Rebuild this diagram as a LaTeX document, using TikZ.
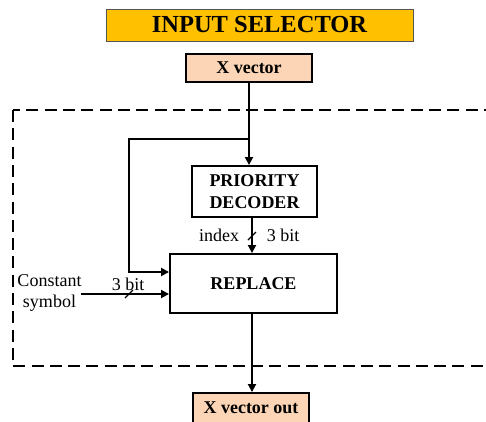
\documentclass[tikz,border=0pt]{standalone}
\usepackage{fontspec}
\setmainfont{Liberation Serif}
\usetikzlibrary{arrows.meta}
\definecolor{titlefill}{HTML}{FFC000}
\definecolor{peach}{HTML}{FBD5B5}
\definecolor{titleedge}{HTML}{555555}
\begin{document}
\begin{tikzpicture}[x=1pt,y=-1pt,
  box/.style={draw=black,line width=1.9pt,inner sep=0pt,font=\fontsize{18}{22}\selectfont\bfseries,align=center},
  iobox/.style={box,fill=peach},
  wire/.style={line width=1.8pt,-{Triangle[length=8pt,width=8pt]}},
  tick/.style={line width=1.3pt},
  lbl/.style={font=\fontsize{18}{21}\selectfont,inner sep=0pt,align=center}]
\useasboundingbox (0,0) rectangle (486,421);
\clip (0,0) rectangle (486,421);
% dashed region
\draw[line width=1.6pt,dash pattern=on 12pt off 6.3pt] (13,110) rectangle (520,366);
% nodes
\node[draw=titleedge,line width=0.9pt,fill=titlefill,minimum width=307pt,minimum height=32pt,inner sep=0pt,font=\fontsize{24.5}{26}\selectfont\bfseries] (title) at (259.5,25) {INPUT SELECTOR};
\node[iobox,minimum width=126pt,minimum height=28pt] (xvec) at (249,68) {X vector};
\node[box,minimum width=125pt,minimum height=51pt] (prio) at (254.5,191.5) {PRIORITY\\DECODER};
\node[box,minimum width=167pt,minimum height=59pt] (repl) at (253.5,283.5) {REPLACE};
\node[iobox,minimum width=116pt,minimum height=30pt] (xout) at (251,408) {X vector out};
% labels
\node[lbl] (const) at (49.5,292.5) {Constant\\symbol};
\node[lbl] (idx) at (219,235) {index};
\node[lbl] (bitA) at (283,235) {3 bit};
\node[lbl] (bitB) at (128,284) {3 bit};
% coordinates
\coordinate (br) at (249,139);
\coordinate (brl) at (129,139);
\coordinate (brb) at (129,272);
\coordinate (cst) at (81,294);
% connectors
\draw[wire] (xvec.south) -- (xvec.south |- prio.north);
\draw[wire] (br) -- (brl) -- (brb) -- (brb -| repl.west);
\draw[wire] (cst) -- (cst -| repl.west);
\draw[wire] ([xshift=-2.5pt]prio.south) -- ([xshift=-2.5pt]prio.south |- repl.north);
\draw[wire] ([xshift=-1.5pt]repl.south) -- ([xshift=-1.5pt]repl.south |- xout.north);
% bit ticks
\draw[tick] (248,240) -- (256,232);
\draw[tick] (125,298) -- (133,290);
\end{tikzpicture}
\end{document}
